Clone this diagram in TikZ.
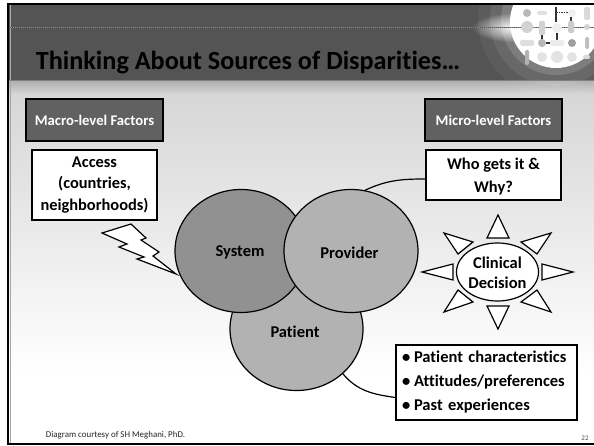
\documentclass[tikz,border=0pt]{standalone}
\usepackage{fontspec}
\setmainfont[Ligatures={NoCommon}]{Carlito}
\usetikzlibrary{shapes.geometric,fadings}
\definecolor{bandgray}{gray}{0.33}
\definecolor{bodygray}{gray}{0.84}
\definecolor{headgray}{gray}{0.38}
\definecolor{systemgray}{gray}{0.57}
\definecolor{providergray}{gray}{0.7}
\tikzfading[name=softglow, inner color=transparent!0, outer color=transparent!100]
\begin{document}
\begin{tikzpicture}[
    x=1pt,y=-1pt,
    headbox/.style={%
        draw=black, line width=1.2pt, fill=headgray, text=white,
        font=\bfseries\fontsize{14.7}{17}\selectfont,
        minimum width=137pt, minimum height=42pt, inner sep=0pt},
    whitebox/.style={%
        draw=black, line width=1.2pt, fill=white, text=black, align=center,
        font=\bfseries\fontsize{16.4}{21.5}\selectfont, inner sep=0pt},
    disc/.style={%
        draw=black, line width=1.2pt, ellipse, inner sep=0pt,
        minimum width=132pt, minimum height=123pt},
    disclabel/.style={font=\bfseries\fontsize{16.5}{19}\selectfont},
    sunray/.style={draw=black, line width=1.2pt, fill=white, line join=miter},
    link/.style={draw=black, line width=1.2pt},
    pill/.style={line width=0pt, rounded corners=1.5pt},
]
    \useasboundingbox (0,0) rectangle (594,446);
    % Background
    \fill[white] (0,0) rectangle (594,446);
    \shade[top color=bodygray, bottom color=white] (7,94) rectangle (594,375);
    \shade[top color=gray!65, bottom color=bodygray] (7,80) rectangle (594,94);
    \fill[bandgray] (7,4) rectangle (594,80);
    \fill[gray!70] (9.5,4) rectangle (10.5,444);
    % Pills graphic
    \begin{scope}
        \clip (7,4) rectangle (594,100);
        \fill[white,opacity=.05] (556,20) circle (78);
        \fill[white,opacity=.08] (556,20) circle (66);
        \fill[white,opacity=.14] (556,20) circle (55);
        \fill[gray] (7,80) rectangle (594,81);
        \fill[white, path fading=softglow] (516,27.5) ellipse (44 and 15);
        \fill[white] (556,22) circle (46);
    \end{scope}
    \draw[gray!90, line width=1.5pt] (10,27.5) -- (594,27.5);
    \draw[black!65, line width=1pt, densely dotted] (10,27.5) -- (594,27.5);
    \draw[black!80, line width=1.8pt] (556,7) -- (556,22) (571,17) -- (571,32) (542,32) -- (542,47)
        (557,33) -- (557,42) (546,43) -- (552,43);
    \draw[black!80, line width=1.5pt, densely dotted] (556,12.5) -- (572,12.5);
    \fill[gray!55] (527,13) circle (4) (542,43) circle (4);
    \fill[gray!35] (527,27) circle (6) (587,27) circle (3);
    \fill[gray!75] (572,43) circle (4);
    \fill[gray!12] (572,13) circle (4) (557,28) circle (5);
    \fill[gray!22] (542,57) circle (5) (557,57) circle (6) (572,57) circle (5);
    \fill[pill,gray!25] (537,11) rectangle (547,15);
    \fill[pill,gray!30] (584,7) rectangle (590,20);
    \fill[pill,gray!35] (539,21) rectangle (545,35);
    \fill[pill,gray!40] (568,21) rectangle (574,33);
    \fill[pill,gray!25] (520,40) rectangle (534,46);
    \fill[pill,gray!15] (550,40) rectangle (564,46);
    \fill[pill,gray!50] (585,37) rectangle (589,49);
    \fill[pill,gray!60] (525,50) rectangle (529,65);
    \fill[pill,gray!30] (583,55) rectangle (590,59);
    % Frame, open on the right
    \draw[black, line width=2.5pt] (594,4) -- (8,4) -- (8,444) -- (594,444);
    % Title and footer
    \node (title) at (248,63) {\bfseries\fontsize{26.2}{30}\selectfont Thinking About Sources of Disparities…};
    \node[font=\fontsize{8.9}{11}\selectfont, text=black!85] (credit) at (115.5,435.5) {Diagram courtesy of SH Meghani, PhD.};
    \node[font=\fontsize{7}{8}\selectfont, text=black!70] (pagenum) at (585,438) {22};
    % Circles
    \node[disc, fill=providergray, minimum width=133pt] (patient) at (296.5,329) {};
    \node[disc, fill=systemgray] (system) at (241,251) {};
    \node[disc, fill=providergray, minimum width=134pt] (provider) at (351,251) {};
    \node[disclabel] (systemlabel) at (240,252.5) {System};
    \node[disclabel] (providerlabel) at (349.5,252.5) {Provider};
    \node[disclabel] (patientlabel) at (295,331.5) {Patient};
    % Factors
    \node[headbox] (macro) at (94.5,120) {Macro-level Factors};
    \node[headbox] (micro) at (493.5,120) {Micro-level Factors};
    \node[whitebox, minimum width=125pt, minimum height=70pt] (access) at (94.5,185) {Access\\(countries,\\neighborhoods)};
    \node[whitebox, minimum width=135pt, minimum height=50pt, font=\bfseries\fontsize{16.4}{23}\selectfont] (who) at (493.5,175) {\rule{0pt}{15pt}Who gets it \&\\Why?};
    \node[whitebox, minimum width=181pt, minimum height=75pt, align=left, text width=169pt, inner xsep=6pt, font=\bfseries\fontsize{16.5}{24}\selectfont] (traits) at (486.5,382.5)
        {\makebox[12pt][l]{\textbullet}Patient characteristics\\\makebox[12pt][l]{\textbullet}Attitudes/preferences\\\makebox[12pt][l]{\textbullet}Past experiences};
    % Connectors
    \coordinate (whoend) at ([yshift=-4pt]who.west);
    \coordinate (traitsend) at ([yshift=-15pt]traits.west);
    \draw[link] (whoend) to[out=180,in=25] (provider.77);
    \draw[link] (traitsend) to[out=172,in=-50] (patient.-44);
    % Lightning
    \draw[sunray] (102,233) -- (131,224) -- (146,238) -- (141,240) -- (159,252) -- (153,256)
        -- (176,274) -- (137,259) -- (144,257) -- (119,247) -- (127,244) -- cycle;
    % Sun
    \foreach \tipa/\tipb/\tipc in {
        {498,215}/{487,238}/{509,238},
        {444,233}/{473,242}/{458,254},
        {551,233}/{521,242}/{537,254},
        {422,272}/{453,264}/{453,280},
        {573,272}/{542,264}/{542,280},
        {498,329}/{487,306}/{509,306},
        {444,312}/{458,290}/{473,302},
        {551,312}/{537,290}/{521,302}}
        \draw[sunray] (\tipa) -- (\tipb) -- (\tipc) -- cycle;
    \node[draw=black, line width=1.2pt, fill=white, ellipse, inner sep=0pt, minimum width=76pt, minimum height=58pt,
        align=center, font=\bfseries\fontsize{16.5}{20}\selectfont] (decision) at (497.5,272) {\rule{0pt}{13pt}Clinical\\Decision};
\end{tikzpicture}
\end{document}
